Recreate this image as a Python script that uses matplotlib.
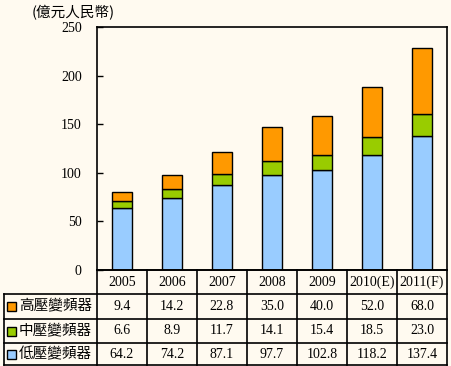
import matplotlib

matplotlib.use("Agg")

import matplotlib.pyplot as plt
import numpy as np

years = ["2005", "2006", "2007", "2008", "2009", "2010(E)", "2011(F)"]
series_names = ["高壓變頻器", "中壓變頻器", "低壓變頻器"]
high = [9.4, 14.2, 22.8, 35.0, 40.0, 52.0, 68.0]
mid = [6.6, 8.9, 11.7, 14.1, 15.4, 18.5, 23.0]
low = [64.2, 74.2, 87.1, 97.7, 102.8, 118.2, 137.4]
colors = ["#FF9900", "#99CC00", "#99CCFF"]

W, H = 451, 366
BG = "#FFFAF0"
CJK = ["Noto Sans CJK TC", "DejaVu Sans"]
SERIF = ["Liberation Serif", "DejaVu Serif"]

fig = plt.figure(figsize=(W / 100, H / 100), dpi=100, facecolor=BG)


def fx(px):
    return px / W


def fy(py):
    return 1 - py / H


# chart area in pixels
left, right, top, bottom = 97, 447, 27, 270
ax = fig.add_axes([fx(left), fy(bottom), fx(right - left), (bottom - top) / H])
ax.set_facecolor(BG)
x = np.arange(len(years))
ax.bar(x, low, 0.4, color=colors[2], edgecolor="black", linewidth=1)
ax.bar(x, mid, 0.4, bottom=low, color=colors[1], edgecolor="black", linewidth=1)
ax.bar(x, high, 0.4, bottom=np.array(low) + np.array(mid), color=colors[0], edgecolor="black", linewidth=1)
ax.set_xlim(-0.5, len(years) - 0.5)
ax.set_ylim(0, 250)
ax.set_yticks(range(0, 251, 50))
ax.set_xticks([])
ax.tick_params(axis="y", direction="in", length=4, width=1, pad=11, labelsize=10)
for lab in ax.get_yticklabels():
    lab.set_family(SERIF)
for s in ax.spines.values():
    s.set_linewidth(1.2)
fig.text(fx(32), fy(13), "(億元人民幣)", family=CJK, fontsize=10.5, va="center", ha="left")

# table drawn on its own axes in pixel coordinates
tx = fig.add_axes([0, 0, 1, 1], facecolor="none")
tx.set_xlim(0, W)
tx.set_ylim(H, 0)
tx.axis("off")
row_edges = [270, 294, 319, 343, 365]
col_edges = [left + 50 * i for i in range(len(years) + 1)]
lw = 1.2
for c in col_edges:
    tx.plot([c, c], [row_edges[0], row_edges[-1]], color="black", lw=lw)
tx.plot([4, 4], [row_edges[1], row_edges[-1]], color="black", lw=lw)
tx.plot([left, right], [row_edges[0], row_edges[0]], color="black", lw=lw)
for r in row_edges[1:]:
    tx.plot([4, right], [r, r], color="black", lw=lw)
for i, yr in enumerate(years):
    cx = (col_edges[i] + col_edges[i + 1]) / 2
    tx.text(cx, (row_edges[0] + row_edges[1]) / 2, yr, family=SERIF, fontsize=10, ha="center", va="center")
rows = [high, mid, low]
for j, (name, vals, col) in enumerate(zip(series_names, rows, colors)):
    cy = (row_edges[j + 1] + row_edges[j + 2]) / 2
    tx.add_patch(plt.Rectangle((7, cy - 4.5), 9, 9, facecolor=col, edgecolor="black", lw=1))
    tx.text(19, cy, name, family=CJK, fontsize=10.5, ha="left", va="center")
    for i, v in enumerate(vals):
        cx = (col_edges[i] + col_edges[i + 1]) / 2
        tx.text(cx, cy, f"{v:.1f}", family=SERIF, fontsize=10, ha="center", va="center")

fig.savefig("out.png", dpi=100, facecolor=BG)
